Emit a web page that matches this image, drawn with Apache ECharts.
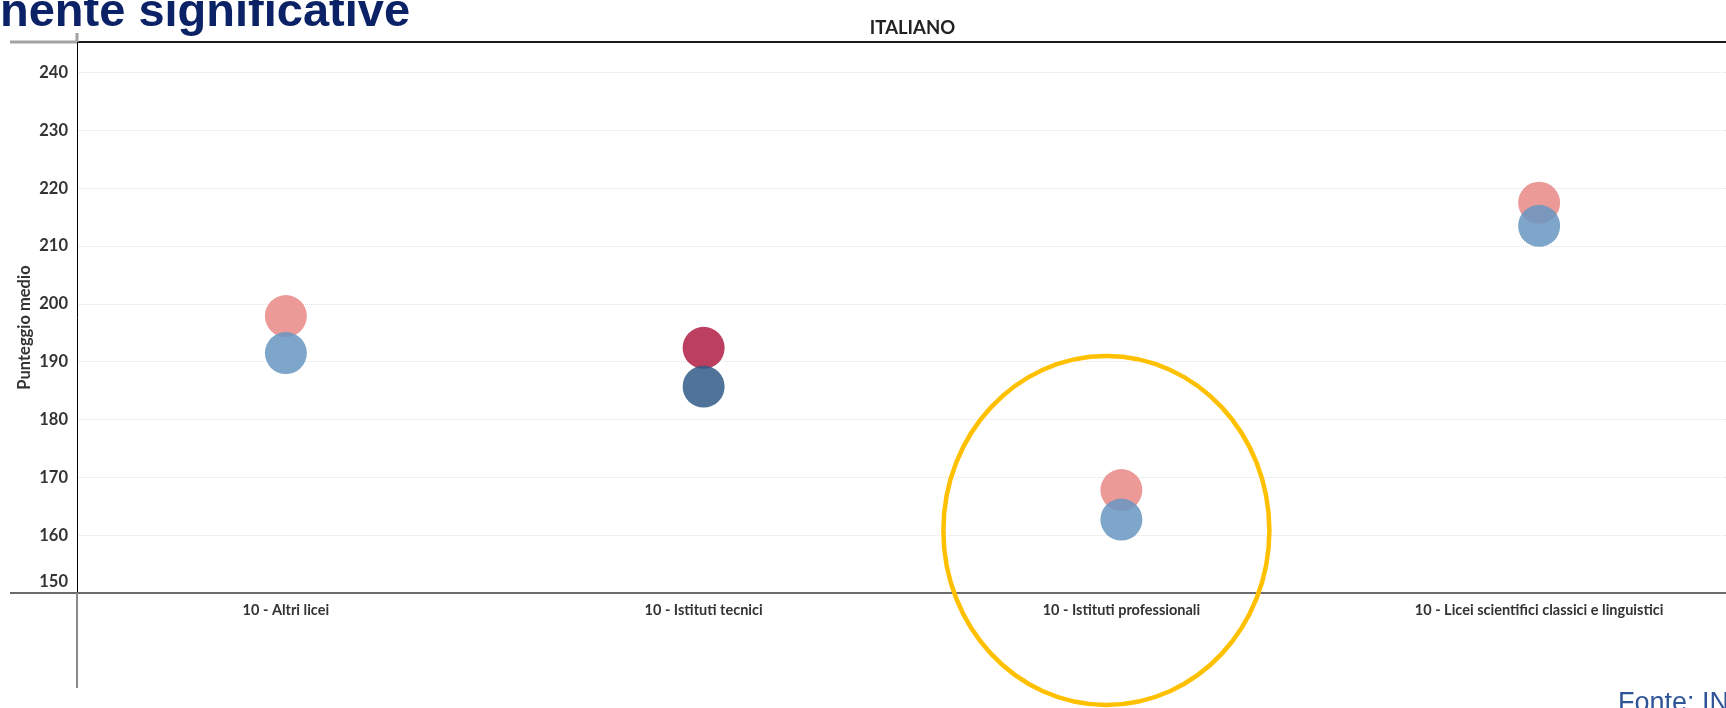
<!DOCTYPE html>
<html>
<head>
<meta charset="utf-8">
<script src="https://cdn.jsdelivr.net/npm/echarts@6/dist/echarts.min.js"></script>
<style>
  html, body { margin: 0; padding: 0; background: #ffffff; overflow: hidden; }
  #chart { width: 1726px; height: 708px; }
</style>
</head>
<body>
<div id="chart"></div>
<script>
// Categorie (tipo di scuola, grado 10)
const categorie = [
  '10 - Altri licei',
  '10 - Istituti tecnici',
  '10 - Istituti professionali',
  '10 - Licei scientifici classici e linguistici'
];
// Punteggio medio in Italiano: serie rossa e serie blu
const punteggiRossi = [197.9, 192.4, 167.8, 217.5];
const punteggiBlu   = [191.5, 185.7, 162.7, 213.5];
// Differenza statisticamente significativa (colori pieni)
const significativa = [false, true, false, false];

// Scala dell'asse verticale
const Y_MIN = 150;
const Y_MAX = 245.3;
const Y_STEP = 10;

const ROSSO_CHIARO = 'rgba(231,136,134,0.85)';
const ROSSO_SCURO  = 'rgba(178,29,67,0.85)';
const BLU_CHIARO   = 'rgba(103,150,193,0.85)';
const BLU_SCURO    = 'rgba(48,90,135,0.85)';

const FONT = 'Lato';
const GRID_LEFT = 77, GRID_TOP = 42, GRID_BOTTOM_Y = 593, GRID_WIDTH = 1671;

function punti(valori, chiaro, scuro) {
  return valori.map((v, i) => ({
    value: v,
    itemStyle: { color: significativa[i] ? scuro : chiaro, opacity: 1 }
  }));
}

const chart = echarts.init(document.getElementById('chart'), null, { renderer: 'canvas' });

chart.setOption({
  animation: false,
  backgroundColor: '#ffffff',
  grid: {
    left: GRID_LEFT, top: GRID_TOP, width: GRID_WIDTH, bottom: 708 - GRID_BOTTOM_Y,
    containLabel: false, outerBoundsMode: 'none'
  },
  xAxis: [
    {
      type: 'category',
      data: categorie,
      position: 'bottom',
      axisLine: { show: true, lineStyle: { color: '#6b6b6b', width: 2 } },
      axisTick: { show: false },
      splitLine: { show: false },
      axisLabel: { margin: 10, fontFamily: FONT, fontWeight: 'bold', fontSize: 14.5, color: '#333333' }
    },
    {
      type: 'category',
      data: categorie,
      position: 'top',
      axisLine: { show: true, lineStyle: { color: '#1a1a1a', width: 2 } },
      axisTick: { show: false },
      axisLabel: { show: false },
      splitLine: { show: false },
      name: 'ITALIANO',
      nameLocation: 'middle',
      nameGap: 4,
      nameTextStyle: { fontFamily: FONT, fontWeight: 'bold', fontSize: 18.5, color: '#222222' }
    }
  ],
  yAxis: {
    type: 'value',
    min: Y_MIN,
    max: Y_MAX,
    interval: Y_STEP,
    axisLine: { show: true, lineStyle: { color: '#000000', width: 1 } },
    axisTick: { show: false },
    splitLine: { show: true, lineStyle: { color: '#e2e2e2', type: 'dotted', width: 1 } },
    axisLabel: {
      showMaxLabel: false,
      margin: 9,
      fontFamily: FONT,
      fontWeight: 'bold',
      fontSize: 16.5,
      color: '#333333',
      formatter: v => (v === Y_MIN ? '{basso|' + v + '}' : '{n|' + v + '}'),
      rich: {
        n: { fontFamily: FONT, fontWeight: 'bold', fontSize: 16.5, color: '#333333' },
        basso: { fontFamily: FONT, fontWeight: 'bold', fontSize: 16.5, color: '#333333', padding: [0, 0, 22, 0] }
      }
    },
    name: 'Punteggio medio',
    nameLocation: 'middle',
    nameGap: 44,
    nameMoveOverlap: false,
    nameTextStyle: { fontFamily: FONT, fontWeight: 'bold', fontSize: 16.5, color: '#333333', padding: [0, 20, 0, 0] }
  },
  series: [
    {
      name: 'Rossi',
      type: 'scatter',
      symbol: 'circle',
      symbolSize: 42,
      data: punti(punteggiRossi, ROSSO_CHIARO, ROSSO_SCURO),
      z: 3
    },
    {
      name: 'Blu',
      type: 'scatter',
      symbol: 'circle',
      symbolSize: 42,
      data: punti(punteggiBlu, BLU_CHIARO, BLU_SCURO),
      z: 4
    }
  ]
});

// Cornice esterna, titolo e fonte; cerchio evidenziatore sulla categoria degli istituti professionali
const cxProf = chart.convertToPixel({ xAxisIndex: 0 }, categorie[2]) - 15;
chart.setOption({
  graphic: [
    { type: 'line', shape: { x1: 10, y1: GRID_TOP, x2: GRID_LEFT, y2: GRID_TOP }, style: { stroke: '#a3a3a3', lineWidth: 3 }, z: 10 },
    { type: 'line', shape: { x1: 10, y1: GRID_BOTTOM_Y, x2: GRID_LEFT, y2: GRID_BOTTOM_Y }, style: { stroke: '#6b6b6b', lineWidth: 2 }, z: 10 },
    { type: 'line', shape: { x1: GRID_LEFT, y1: 33, x2: GRID_LEFT, y2: GRID_TOP }, style: { stroke: '#a3a3a3', lineWidth: 3 }, z: 10 },
    { type: 'line', shape: { x1: GRID_LEFT, y1: GRID_BOTTOM_Y, x2: GRID_LEFT, y2: 688 }, style: { stroke: '#8a8a8a', lineWidth: 2 }, z: 10 },
    {
      type: 'text', x: 0, y: 13.5, z: 20,
      style: { text: 'nente significative', fill: '#0b2266', font: 'bold 47px "Liberation Sans", Arial, sans-serif', verticalAlign: 'middle', align: 'left' }
    },
    {
      type: 'text', x: 1618, y: 704, z: 20,
      style: { text: 'Fonte: INVALSI', fill: '#2f5597', font: '27px "Liberation Sans", Arial, sans-serif', verticalAlign: 'middle', align: 'left' }
    },
    {
      type: 'ellipse', z: 100,
      shape: { cx: cxProf, cy: 530.5, rx: 163, ry: 174.5 },
      style: { fill: 'none', stroke: '#ffc000', lineWidth: 4.5 }
    }
  ]
});
</script>
</body>
</html>
